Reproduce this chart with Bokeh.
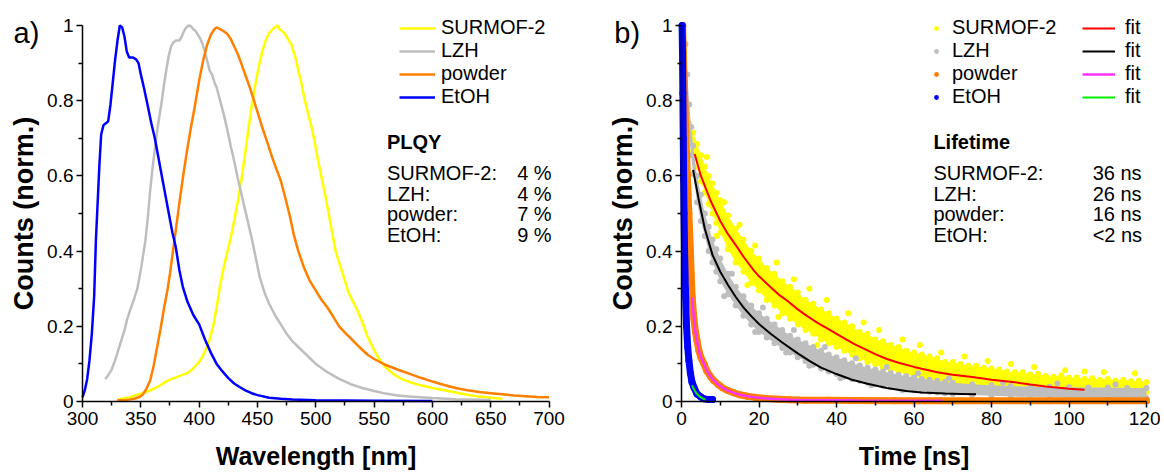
from bokeh.plotting import figure
from bokeh.models import (Range1d, FixedTicker, NumeralTickFormatter, Legend,
                          LegendItem, Label)
from bokeh.layouts import row
from bokeh.embed import file_html
from bokeh.resources import INLINE

FONT = "Liberation Sans"

# ---------------- panel a) : emission spectra ----------------
wl_etoh = [300, 302, 304, 306, 308, 310, 311.5, 313, 314.5, 316, 318, 320, 322, 324, 326, 328, 330, 332,
           334, 336, 338, 340, 343, 346, 348, 350, 353, 356, 359, 362, 365, 368, 371, 374, 377, 380, 383,
           386, 390, 395, 400, 405, 410, 415, 420, 425, 430, 435, 440, 445, 450, 460, 470, 480, 500, 550, 600]
etoh = [0.011, 0.03, 0.06, 0.11, 0.18, 0.28, 0.43, 0.53, 0.63, 0.71, 0.735, 0.74, 0.745, 0.79, 0.85, 0.91,
        0.96, 1.0, 0.995, 0.97, 0.93, 0.915, 0.915, 0.91, 0.90, 0.87, 0.83, 0.785, 0.74, 0.70, 0.65, 0.60,
        0.55, 0.50, 0.45, 0.41, 0.35, 0.305, 0.265, 0.23, 0.205, 0.165, 0.13, 0.10, 0.08, 0.062, 0.048,
        0.038, 0.029, 0.022, 0.017, 0.01, 0.007, 0.005, 0.003, 0.002, 0.001]

wl_lzh = [319.5, 322, 325, 328, 330, 333, 336, 338, 341, 344, 347, 350, 352, 354, 356, 358, 360, 362, 364,
          366, 368, 370, 372, 374, 376, 378, 380, 383, 385, 387, 389, 391, 393, 395, 397, 399, 401, 403,
          405, 407, 409, 411, 413, 415, 418, 421, 424, 427, 430, 433, 436, 439, 442, 445, 448, 452, 456,
          460, 465, 470, 475, 480, 485, 490, 495, 500, 510, 520, 530, 540, 550, 560, 570, 580, 600, 620, 650]
lzh = [0.06, 0.07, 0.085, 0.11, 0.13, 0.16, 0.19, 0.215, 0.245, 0.27, 0.30, 0.35, 0.39, 0.43, 0.49, 0.56,
       0.62, 0.67, 0.72, 0.76, 0.80, 0.845, 0.885, 0.92, 0.945, 0.955, 0.96, 0.96, 0.97, 0.985, 0.995, 1.0,
       0.998, 0.99, 0.985, 0.975, 0.965, 0.95, 0.93, 0.905, 0.88, 0.87, 0.85, 0.835, 0.80, 0.765, 0.725,
       0.68, 0.64, 0.595, 0.555, 0.515, 0.475, 0.435, 0.39, 0.33, 0.29, 0.26, 0.23, 0.205, 0.18, 0.16,
       0.145, 0.13, 0.115, 0.10, 0.078, 0.06, 0.046, 0.036, 0.028, 0.021, 0.016, 0.013, 0.009, 0.006, 0.004]

wl_powder = [330, 335, 340, 345, 349, 352, 355, 358, 361, 364, 367, 370, 373, 375, 378, 381, 384, 387, 390,
             393, 396, 399, 401, 404, 407, 410, 413, 415, 418, 421, 424, 427, 430, 433, 436, 440, 444, 447,
             450, 454, 458, 462, 466, 470, 474, 478, 481, 485, 490, 495, 500, 505, 510, 515, 520, 525, 530,
             535, 540, 545, 550, 560, 570, 580, 590, 600, 610, 620, 630, 640, 650, 660, 670, 680, 690, 700]
powder = [0.003, 0.003, 0.005, 0.008, 0.012, 0.02, 0.035, 0.056, 0.095, 0.145, 0.195, 0.25, 0.30, 0.34,
          0.41, 0.48, 0.55, 0.615, 0.675, 0.73, 0.78, 0.835, 0.87, 0.915, 0.95, 0.975, 0.99, 0.995, 0.99,
          0.985, 0.978, 0.965, 0.945, 0.925, 0.90, 0.865, 0.83, 0.80, 0.77, 0.73, 0.693, 0.655, 0.62, 0.587,
          0.54, 0.49, 0.445, 0.40, 0.355, 0.32, 0.295, 0.27, 0.25, 0.225, 0.20, 0.183, 0.168, 0.152, 0.137,
          0.123, 0.113, 0.097, 0.085, 0.074, 0.063, 0.053, 0.044, 0.036, 0.03, 0.025, 0.022, 0.019, 0.016,
          0.014, 0.012, 0.011]

wl_surmof = [330, 335, 340, 345, 350, 355, 360, 365, 370, 375, 380, 385, 390, 395, 400, 403, 406, 409, 412,
             415, 418, 421, 424, 427, 430, 433, 436, 439, 442, 445, 448, 451, 454, 457, 460, 463, 465, 467,
             469, 471, 473, 475, 477, 479, 481, 483, 485, 487, 490, 493, 496, 499, 502, 505, 508, 511, 514,
             517, 520, 524, 528, 532, 536, 540, 544, 548, 552, 556, 560, 565, 570, 575, 580, 590, 600, 610,
             620, 630, 640, 650, 660]
surmof = [0.005, 0.008, 0.011, 0.016, 0.021, 0.026, 0.032, 0.040, 0.05, 0.058, 0.064, 0.07, 0.076, 0.088,
          0.105, 0.12, 0.14, 0.165, 0.20, 0.25, 0.31, 0.355, 0.395, 0.435, 0.48, 0.53, 0.585, 0.65, 0.72,
          0.785, 0.84, 0.89, 0.93, 0.96, 0.98, 0.99, 0.995, 1.0, 0.99, 0.985, 0.98, 0.97, 0.96, 0.95, 0.93,
          0.91, 0.88, 0.855, 0.81, 0.77, 0.735, 0.69, 0.64, 0.595, 0.55, 0.50, 0.45, 0.40, 0.37, 0.33, 0.29,
          0.265, 0.24, 0.21, 0.175, 0.15, 0.125, 0.105, 0.09, 0.077, 0.066, 0.058, 0.052, 0.043, 0.036, 0.03,
          0.024, 0.018, 0.013, 0.010, 0.007]

series_names = ["SURMOF-2", "LZH", "powder", "EtOH"]
plqy_names = ["SURMOF-2:", "LZH:", "powder:", "EtOH:"]
plqy_values = ["4 %", "4 %", "7 %", "9 %"]
lifetime_values = ["36 ns", "26 ns", "16 ns", "<2 ns"]

wl_ticks = [300, 350, 400, 450, 500, 550, 600, 650, 700]
wl_minor = [325, 375, 425, 475, 525, 575, 625, 675]
t_ticks = [0, 20, 40, 60, 80, 100, 120]
t_minor = [10, 30, 50, 70, 90, 110]
y_ticks = [0, 0.2, 0.4, 0.6, 0.8, 1]
y_minor = [0.1, 0.3, 0.5, 0.7, 0.9]

# ---------------- panel b) : decays ----------------
yel_t = [2, 3, 4, 5, 6, 7, 8, 9, 10, 12, 14, 16, 18, 20, 22, 24, 26, 28, 30, 32, 34, 36, 38, 40, 42, 44,
         46, 48, 50, 52, 54, 56, 58, 60, 62, 64, 66, 68, 70, 72, 74, 76, 78, 80, 82, 84, 86, 88, 90, 92,
         94, 96, 98, 100, 102, 104, 106, 108, 110, 112, 114, 116, 118, 120]
yel_hi = [0.74, 0.715, 0.685, 0.655, 0.625, 0.60, 0.58, 0.555, 0.535, 0.495, 0.46, 0.43, 0.40, 0.38, 0.355,
          0.34, 0.32, 0.305, 0.29, 0.27, 0.26, 0.245, 0.235, 0.22, 0.21, 0.20, 0.185, 0.18, 0.165, 0.16,
          0.15, 0.145, 0.135, 0.13, 0.125, 0.12, 0.115, 0.105, 0.105, 0.10, 0.095, 0.095, 0.09, 0.088,
          0.085, 0.08, 0.078, 0.078, 0.072, 0.074, 0.068, 0.066, 0.07, 0.063, 0.064, 0.06, 0.062, 0.058,
          0.06, 0.056, 0.058, 0.054, 0.055, 0.052]
yel_lo = [0.70, 0.665, 0.625, 0.585, 0.555, 0.525, 0.50, 0.475, 0.45, 0.405, 0.37, 0.345, 0.315, 0.295,
          0.27, 0.255, 0.235, 0.22, 0.205, 0.19, 0.18, 0.165, 0.155, 0.145, 0.135, 0.125, 0.115, 0.105,
          0.10, 0.09, 0.085, 0.078, 0.072, 0.068, 0.062, 0.058, 0.055, 0.05, 0.048, 0.045, 0.043, 0.04,
          0.038, 0.037, 0.035, 0.034, 0.032, 0.031, 0.03, 0.03, 0.029, 0.029, 0.028, 0.028, 0.027, 0.027,
          0.027, 0.026, 0.026, 0.026, 0.025, 0.025, 0.025, 0.025]
# scattered single points lying outside the dense yellow band
yel_out_t = [6.5, 11, 15, 19, 24.5, 29, 33, 37.5, 43, 47, 51, 57, 61.5, 67, 73, 79, 85, 91, 99, 104, 109,
             117, 9, 17, 25, 35]
yel_out_v = [0.65, 0.53, 0.47, 0.415, 0.37, 0.325, 0.30, 0.27, 0.235, 0.21, 0.19, 0.165, 0.15, 0.13, 0.12,
             0.108, 0.10, 0.092, 0.083, 0.08, 0.078, 0.075, 0.44, 0.31, 0.225, 0.15]

gry_t = [0.5, 1, 1.5, 2, 2.5, 3, 4, 5, 6, 7, 8, 9, 10, 12, 14, 16, 18, 20, 22, 24, 26, 28, 30, 32, 34, 36,
         38, 40, 42, 44, 46, 48, 50, 52, 54, 56, 58, 60, 62, 64, 66, 68, 70, 75, 80, 85, 90, 95, 100, 105,
         110, 115, 120]
gry_hi = [1.0, 0.95, 0.87, 0.79, 0.73, 0.68, 0.60, 0.55, 0.50, 0.465, 0.43, 0.405, 0.38, 0.34, 0.305, 0.28,
          0.255, 0.235, 0.22, 0.205, 0.19, 0.175, 0.165, 0.155, 0.145, 0.135, 0.125, 0.118, 0.11, 0.102,
          0.096, 0.09, 0.085, 0.08, 0.076, 0.071, 0.068, 0.064, 0.06, 0.058, 0.055, 0.052, 0.05, 0.046,
          0.043, 0.041, 0.04, 0.039, 0.038, 0.037, 0.037, 0.036, 0.036]
gry_lo = [0.95, 0.87, 0.79, 0.71, 0.655, 0.605, 0.53, 0.48, 0.44, 0.40, 0.37, 0.345, 0.32, 0.285, 0.255,
          0.228, 0.205, 0.185, 0.17, 0.155, 0.142, 0.13, 0.118, 0.108, 0.098, 0.088, 0.08, 0.073, 0.066,
          0.06, 0.055, 0.05, 0.046, 0.042, 0.038, 0.035, 0.032, 0.03, 0.028, 0.026, 0.024, 0.022, 0.02,
          0.017, 0.015, 0.013, 0.012, 0.011, 0.01, 0.01, 0.009, 0.009, 0.009]
gry_out_t = [13, 21, 29, 37, 45, 53, 61, 69, 83, 97, 112, 11, 19, 27, 33, 41, 49, 57]
gry_out_v = [0.34, 0.25, 0.19, 0.145, 0.115, 0.092, 0.075, 0.062, 0.05, 0.048, 0.045, 0.28, 0.185, 0.13,
             0.095, 0.062, 0.043, 0.03]

org_t = [0.3, 0.5, 0.7, 0.9, 1.1, 1.3, 1.5, 1.7, 1.9, 2.1, 2.3, 2.5, 2.75, 3.2, 3.6, 4, 4.5, 5, 5.8, 6.5,
         7.5, 8.3, 9.5, 10.5, 12, 13.5, 15, 17, 19, 22, 25, 28, 32, 38, 45, 55, 67, 80, 95, 110, 120]
org_v = [1.0, 0.93, 0.85, 0.78, 0.72, 0.66, 0.60, 0.55, 0.50, 0.45, 0.40, 0.34, 0.277, 0.22, 0.185, 0.162,
         0.135, 0.117, 0.10, 0.082, 0.066, 0.056, 0.045, 0.037, 0.029, 0.023, 0.018, 0.014, 0.011, 0.008,
         0.006, 0.0045, 0.0035, 0.003, 0.0025, 0.002, 0.002, 0.002, 0.002, 0.002, 0.002]

blu_t = [0.15, 0.25, 0.35, 0.45, 0.55, 0.65, 0.8, 1.0, 1.3, 1.6, 1.9, 2.3, 2.7, 3.2, 4, 5, 5.8, 7, 8]
blu_v = [1.0, 0.93, 0.82, 0.7, 0.59, 0.5, 0.4, 0.3, 0.2, 0.145, 0.11, 0.075, 0.052, 0.038, 0.02, 0.012,
         0.007, 0.005, 0.005]

fit_red_t = [3.4, 5, 7.5, 10, 12, 14.4, 16, 18.7, 20, 23, 25, 27.3, 30, 31.6, 35, 38.5, 40, 44.5, 50, 53,
             56, 60, 62, 66, 70, 75, 80, 86, 90, 94, 100, 104]
fit_red_v = [0.658, 0.60, 0.534, 0.48, 0.445, 0.41, 0.385, 0.348, 0.333, 0.304, 0.285, 0.268, 0.245, 0.233,
             0.21, 0.189, 0.18, 0.153, 0.126, 0.113, 0.103, 0.092, 0.087, 0.078, 0.071, 0.065, 0.058, 0.051,
             0.045, 0.04, 0.034, 0.031]
fit_blk_t = [3, 4.5, 6, 8, 10, 12, 14, 16, 18, 20, 23, 26, 30, 33, 36, 40, 44, 48, 53, 58, 62, 68, 72, 76]
fit_blk_v = [0.616, 0.534, 0.46, 0.39, 0.345, 0.31, 0.278, 0.25, 0.227, 0.206, 0.18, 0.157, 0.128, 0.108,
             0.09, 0.073, 0.058, 0.047, 0.036, 0.028, 0.024, 0.021, 0.02, 0.019]
fit_mag_t = [2.75, 3.2, 3.6, 4, 4.5, 5, 5.8, 6.5, 7.5, 8.3, 9.5, 10.5, 12, 13.5, 15, 17, 19, 22, 25, 28, 32,
             38, 45, 55, 67]
fit_mag_v = [0.277, 0.22, 0.185, 0.162, 0.135, 0.117, 0.10, 0.082, 0.066, 0.056, 0.045, 0.037, 0.029, 0.023,
             0.018, 0.014, 0.011, 0.008, 0.006, 0.0045, 0.0035, 0.003, 0.0025, 0.002, 0.002]
fit_grn_t = [2.75, 3.2, 3.7, 4.2, 4.8, 5.5, 6.2]
fit_grn_v = [0.043, 0.033, 0.024, 0.018, 0.012, 0.008, 0.005]

C_YEL, C_GRY, C_ORG, C_BLU = "#FFFF00", "#BEBEBE", "#FF7F00", "#0000FF"
TICK_PX = "19px"
TXT_PX = "20px"
ROWS_Y = [0.609, 0.553, 0.5, 0.444]
H = 475
Y_PX = 376.0            # pixels per unit of normalised counts
Y0_PX = 401.0           # pixel row of counts = 0
YR = Range1d(-(H - Y0_PX) / Y_PX, Y0_PX / Y_PX)


def style(p, xticks, xminor, xlabel, xbounds):
    p.xaxis.ticker = FixedTicker(ticks=xticks, minor_ticks=xminor)
    p.yaxis.ticker = FixedTicker(ticks=y_ticks, minor_ticks=y_minor)
    p.yaxis.formatter = NumeralTickFormatter(format="0.[0]")
    p.xaxis.bounds = xbounds
    p.yaxis.bounds = (0, 1)
    p.xaxis.fixed_location = 0
    p.yaxis.fixed_location = xbounds[0]
    p.xgrid.visible = False
    p.ygrid.visible = False
    p.outline_line_color = None
    p.xaxis.axis_label = xlabel
    p.yaxis.axis_label = "Counts (norm.)"
    for ax in (p.xaxis, p.yaxis):
        ax.axis_line_width = 1.5
        ax.major_tick_line_width = 1.5
        ax.minor_tick_line_width = 1.5
        ax.major_tick_in = 0
        ax.major_tick_out = 6
        ax.minor_tick_in = 0
        ax.minor_tick_out = 4
        ax.major_label_text_font = FONT
        ax.major_label_text_font_size = TICK_PX
        ax.major_label_text_color = "black"
        ax.axis_label_text_font = FONT
        ax.axis_label_text_font_style = "bold"
        ax.axis_label_text_color = "black"
    p.xaxis.major_label_standoff = 4
    p.yaxis.major_label_standoff = 3
    p.xaxis.axis_label_text_font_size = "25px"
    p.yaxis.axis_label_text_font_size = "27px"
    p.xaxis.axis_label_standoff = 14
    p.yaxis.axis_label_standoff = 5


def text(p, x, y, s, bold=False, size=TXT_PX, align="left"):
    p.add_layout(Label(x=x, y=y, text=s, text_font=FONT, text_font_size=size,
                       text_font_style="bold" if bold else "normal", text_baseline="middle",
                       text_align=align, text_color="black"))


def make_fig(width, x0_px, px_per_unit, x_first):
    start = x_first - x0_px / px_per_unit
    return figure(width=width, height=H, output_backend="svg", toolbar_location=None,
                  x_range=Range1d(start, start + width / px_per_unit),
                  y_range=Range1d(YR.start, YR.end),
                  min_border=0, min_border_left=0, min_border_right=0,
                  min_border_top=0, min_border_bottom=0)


# ---- left figure ----
pa = make_fig(590, 82.0, 1.1665, 300)
style(pa, wl_ticks, wl_minor, "Wavelength [nm]", (300, 700))

ra = []
for xs, ys, c in ((wl_surmof, surmof, C_YEL), (wl_lzh, lzh, C_GRY),
                  (wl_powder, powder, C_ORG), (wl_etoh, etoh, C_BLU)):
    ra.append(pa.line(xs, ys, line_color=c, line_width=2.5))

leg_a = Legend(items=[LegendItem(label=n, renderers=[r]) for n, r in zip(series_names, ra)],
               location=(399, 367), orientation="vertical")
pa.add_layout(leg_a)

text(pa, 252.0, 0.98, "a)", size="29px", align="center")
text(pa, 561.0, 0.689, "PLQY", bold=True)
for yy, n, v in zip(ROWS_Y, plqy_names, plqy_values):
    text(pa, 561.0, yy, n)
    text(pa, 672.6, yy, v)

# ---- right figure ----
pb = make_fig(570, 91.0, 3.875, 0)
style(pb, t_ticks, t_minor, "Time [ns]", (0, 120))

pb.varea(x=yel_t, y1=yel_lo, y2=yel_hi, fill_color=C_YEL)
r_yel = pb.scatter(yel_t + yel_t + yel_out_t, yel_hi + yel_lo + yel_out_v, size=6,
                   fill_color=C_YEL, line_color=None)
pb.varea(x=gry_t, y1=gry_lo, y2=gry_hi, fill_color=C_GRY)
r_gry = pb.scatter(gry_t + gry_t + gry_out_t, gry_hi + gry_lo + gry_out_v, size=6,
                   fill_color=C_GRY, line_color=None)
pb.line(org_t, org_v, line_color=C_ORG, line_width=7, line_join="round", line_cap="round")
r_org = pb.scatter(org_t, org_v, size=7, fill_color=C_ORG, line_color=None)
pb.line(blu_t, blu_v, line_color=C_BLU, line_width=7, line_join="round", line_cap="round")
r_blu = pb.scatter(blu_t, blu_v, size=7, fill_color=C_BLU, line_color=None)

f_red = pb.line(fit_red_t, fit_red_v, line_color="#FF0000", line_width=2)
f_blk = pb.line(fit_blk_t, fit_blk_v, line_color="#000000", line_width=2)
f_mag = pb.line(fit_mag_t, fit_mag_v, line_color="#FF33FF", line_width=2.5)
f_grn = pb.line(fit_grn_t, fit_grn_v, line_color="#00EE00", line_width=2)

leg_b1 = Legend(items=[LegendItem(label=n, renderers=[r]) for n, r in
                       zip(series_names, [r_yel, r_gry, r_org, r_blu])],
                location=(340, 367))
leg_b2 = Legend(items=[LegendItem(label="fit", renderers=[r]) for r in [f_red, f_blk, f_mag, f_grn]],
                location=(492, 367))
pb.add_layout(leg_b1)
pb.add_layout(leg_b2)

text(pb, -14.0, 0.98, "b)", size="29px", align="center")
text(pb, 65.0, 0.689, "Lifetime", bold=True)
for yy, n, v in zip(ROWS_Y, plqy_names, lifetime_values):
    text(pb, 65.0, yy, n)
    text(pb, 106.1, yy, v)

for lg, gw, st in ((leg_a, 36, 6), (leg_b1, 12, 10), (leg_b2, 33, 10)):
    lg.label_text_font = FONT
    lg.label_text_font_size = TXT_PX
    lg.label_text_color = "black"
    lg.glyph_width = gw
    lg.glyph_height = 22
    lg.label_height = 22
    lg.label_standoff = st
    lg.spacing = 0
    lg.padding = 0
    lg.margin = 0
    lg.border_line_color = None
    lg.background_fill_alpha = 0

layout = row(pa, pb)
open("out.html", "w").write(file_html(layout, INLINE))
